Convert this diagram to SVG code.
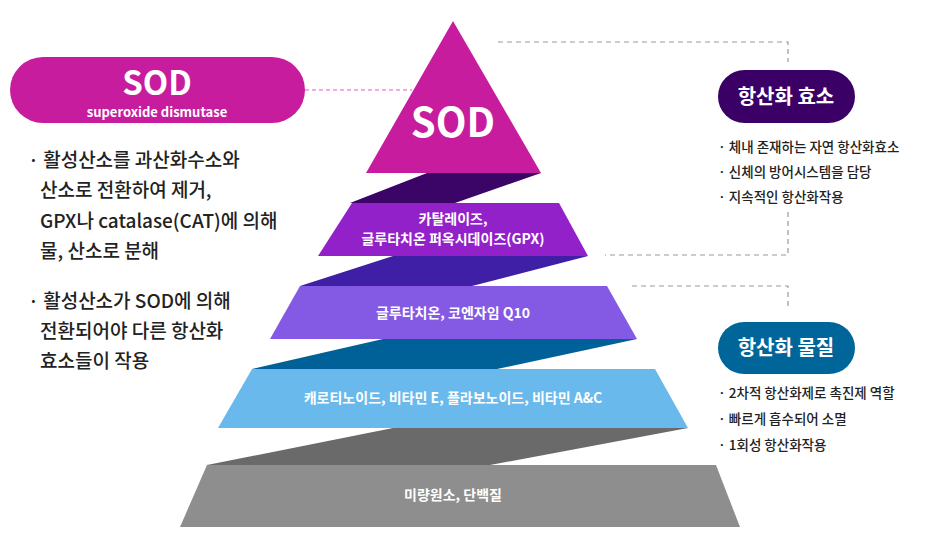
<svg xmlns="http://www.w3.org/2000/svg" width="936" height="538" viewBox="0 0 936 538">
<style>
text{font-family:"Noto Sans CJK KR","Noto Sans",sans-serif}
.w{fill:#fff;font-weight:700;text-anchor:middle}
.b{fill:#222;font-size:19px;font-weight:500}
.s{fill:#222;font-size:13.5px;font-weight:500}
.d{fill:none;stroke:#999;stroke-width:1.2;stroke-dasharray:5 4}
</style>
<rect width="936" height="538" fill="#fff"/>
<g id="connectors">
<path class="d" d="M498 42H788V62"/>
<path class="d" d="M788 212V255H605"/>
<path class="d" d="M632 286H788V306"/>
<path d="M305 90H412" fill="none" stroke="#e05bc4" stroke-width="1.2" stroke-dasharray="4 3"/>
</g>
<g id="bands">
<polygon points="427,173 541,173 455,203 350,203" fill="#3a0566"/>
<polygon points="393,256 588,256 472,286 300,286" fill="#3e1fa6"/>
<polygon points="383,339 637,339 497,369 252,369" fill="#006098"/>
<polygon points="393,428 688,428 490,465 207,465" fill="#6a6a6a"/>
</g>
<g id="sod-top"><polygon points="453,21 541,173 366,173" fill="#c81c9e"/><text x="453" y="137" class="w" font-size="40" font-family="Inter,sans-serif">SOD</text></g>
<g id="layer2"><polygon points="352,203 559,203 588,256 318,256" fill="#9321c9"/><text x="453" y="224" class="w" font-size="14">카탈레이즈,</text><text x="453" y="244" class="w" font-size="14">글루타치온 퍼옥시데이즈(GPX)</text></g>
<g id="layer3"><polygon points="300,286 607,286 637,339 270,339" fill="#8459e4"/><text x="453" y="318" class="w" font-size="14">글루타치온, 코엔자임 Q10</text></g>
<g id="layer4"><polygon points="252,369 655,369 688,428 218,428" fill="#6ab9ec"/><text x="453" y="403" class="w" font-size="14">캐로티노이드, 비타민 E, 플라보노이드, 비타민 A&amp;C</text></g>
<g id="layer5"><polygon points="207,465 716,465 740,527 180,527" fill="#8e8e8e"/><text x="453" y="500" class="w" font-size="14">미량원소, 단백질</text></g>
<g id="sod-label"><rect x="10" y="57" width="295" height="66" rx="33" fill="#c81c9e"/><text x="157" y="95" class="w" font-size="33" font-family="Inter,sans-serif">SOD</text><text x="157" y="117" class="w" font-size="13" font-family="Inter,sans-serif">superoxide dismutase</text></g>
<g id="left-text">
<text class="b" x="28" y="167">· 활성산소를 과산화수소와</text>
<text class="b" x="40" y="197">산소로 전환하여 제거,</text>
<text class="b" x="40" y="228">GPX나 catalase(CAT)에 의해</text>
<text class="b" x="40" y="258">물, 산소로 분해</text>
<text class="b" x="28" y="308">· 활성산소가 SOD에 의해</text>
<text class="b" x="40" y="338">전환되어야 다른 항산화</text>
<text class="b" x="40" y="368">효소들이 작용</text>
</g>
<g id="enzyme"><rect x="718" y="70" width="137" height="53" rx="26.5" fill="#3b0066"/><text x="786" y="104" class="w" font-size="20">항산화 효소</text>
<text class="s" x="718" y="152">· 체내 존재하는 자연 항산화효소</text>
<text class="s" x="718" y="177">· 신체의 방어시스템을 담당</text>
<text class="s" x="718" y="202">· 지속적인 항산화작용</text></g>
<g id="substance"><rect x="718" y="322" width="137" height="52" rx="26" fill="#006699"/><text x="786" y="355" class="w" font-size="20">항산화 물질</text>
<text class="s" x="718" y="398">· 2차적 항산화제로 촉진제 역할</text>
<text class="s" x="718" y="424">· 빠르게 흡수되어 소멸</text>
<text class="s" x="718" y="450">· 1회성 항산화작용</text></g>
</svg>
